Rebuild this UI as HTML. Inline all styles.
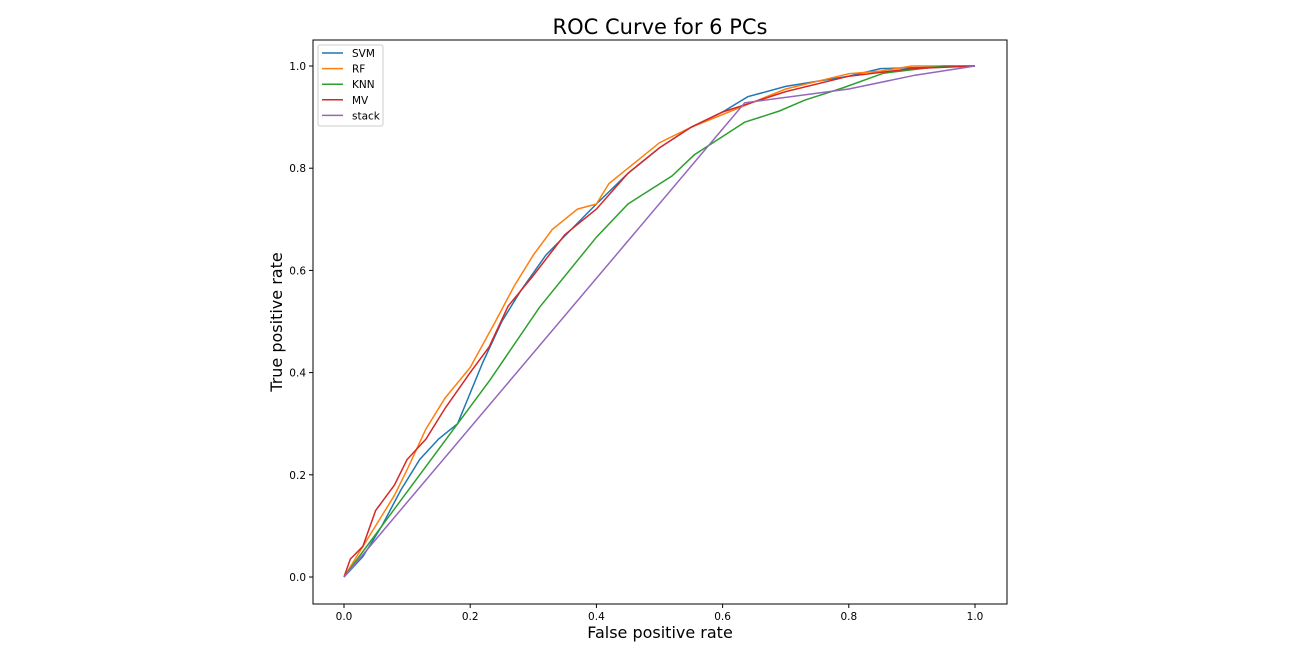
<!DOCTYPE html>
<html><head><meta charset="utf-8"><style>
body{margin:0;background:#fff;font-family:"Liberation Sans","DejaVu Sans",sans-serif;}
svg text{font-family:"DejaVu Sans","Liberation Sans",sans-serif;}
</style></head><body>
<svg id="chart" width="1303" height="662" xmlns="http://www.w3.org/2000/svg"></svg>
<script>
const xTicks=[0,0.2,0.4,0.6,0.8,1.0];
const yTicks=[0,0.2,0.4,0.6,0.8,1.0];
const seriesNames=["SVM","RF","KNN","MV","stack"];
const svmX=[0,0.03,0.06,0.09,0.12,0.15,0.18,0.2,0.22,0.25,0.28,0.32,0.36,0.4,0.45,0.5,0.55,0.6,0.64,0.7,0.75,0.8,0.85,1];
const svmY=[0,0.04,0.1,0.17,0.23,0.27,0.3,0.36,0.42,0.5,0.56,0.63,0.68,0.73,0.79,0.84,0.88,0.91,0.94,0.96,0.97,0.98,0.995,1];
const rfX=[0,0.02,0.05,0.08,0.1,0.13,0.16,0.2,0.24,0.27,0.3,0.33,0.37,0.4,0.42,0.45,0.5,0.55,0.6,0.64,0.7,0.75,0.8,0.85,0.9,1];
const rfY=[0,0.04,0.1,0.16,0.21,0.29,0.35,0.41,0.5,0.57,0.63,0.68,0.72,0.73,0.77,0.8,0.85,0.88,0.905,0.925,0.955,0.97,0.985,0.99,1,1];
const knnX=[0,0.231,0.31,0.4,0.45,0.52,0.555,0.635,0.69,0.73,0.79,0.855,0.95,1];
const knnY=[0,0.385,0.528,0.665,0.73,0.785,0.826,0.89,0.912,0.933,0.957,0.986,1,1];
const mvX=[0,0.01,0.03,0.05,0.08,0.1,0.13,0.16,0.2,0.23,0.26,0.3,0.35,0.4,0.45,0.5,0.55,0.6,0.65,0.7,0.8,0.9,1];
const mvY=[0,0.035,0.06,0.13,0.18,0.23,0.27,0.33,0.4,0.45,0.53,0.59,0.67,0.72,0.79,0.84,0.88,0.91,0.93,0.95,0.98,0.995,1];
const stackX=[0,0.635,0.8,0.905,1];
const stackY=[0,0.928,0.955,0.982,1];
const colors=["#1f77b4","#ff7f0e","#2ca02c","#d62728","#9467bd"];

const NS="http://www.w3.org/2000/svg";
const svg=document.getElementById('chart');
const L=313,R=1007,T=40,B=604;
const xs=v=>344+v*631;
const ys=v=>577-v*511;
function mk(tag,attrs,parent){const e=document.createElementNS(NS,tag);for(const k in attrs)e.setAttribute(k,attrs[k]);(parent||svg).appendChild(e);return e;}

let t=mk('text',{x:660,y:34,'text-anchor':'middle','font-size':21,fill:'#000'});t.textContent='ROC Curve for 6 PCs';


let fr=mk('rect',{x:L,y:T,width:R-L,height:B-T,fill:'none',stroke:'#000','stroke-width':1});


xTicks.forEach(v=>{
 mk('line',{x1:xs(v),x2:xs(v),y1:B,y2:B+4,stroke:'#000'});
 const e=mk('text',{x:xs(v),y:B+16,'text-anchor':'middle','font-size':10.5,fill:'#000'});e.textContent=v.toFixed(1);
 
 
});
yTicks.forEach(v=>{
 mk('line',{x1:L-4,x2:L,y1:ys(v),y2:ys(v),stroke:'#000'});
 const e=mk('text',{x:L-7,y:ys(v)+4,'text-anchor':'end','font-size':10.5,fill:'#000'});e.textContent=v.toFixed(1);
 
 
});
t=mk('text',{x:660,y:638,'text-anchor':'middle','font-size':16,fill:'#000'});t.textContent='False positive rate';


t=mk('text',{x:282,y:322,'text-anchor':'middle','font-size':16,fill:'#000',transform:'rotate(-90 282 322)'});t.textContent='True positive rate';



const data=[[svmX,svmY],[rfX,rfY],[knnX,knnY],[mvX,mvY],[stackX,stackY]];
data.forEach((d,i)=>{
 const pts=d[0].map((x,j)=>xs(x).toFixed(1)+','+ys(d[1][j]).toFixed(1)).join(' ');
 const p=mk('polyline',{points:pts,fill:'none',stroke:colors[i],'stroke-width':1.5});
 
 
});
const lg=mk('g',{});


mk('rect',{x:318,y:45,width:65,height:81,rx:2,fill:'#fff',stroke:'#ccc'},lg);
seriesNames.forEach((n,i)=>{
 const y=53+i*15.6;
 mk('line',{x1:322,x2:343,y1:y,y2:y,stroke:colors[i],'stroke-width':1.5},lg);
 const e=mk('text',{x:352,y:y+4,'font-size':10.5,fill:'#000'},lg);e.textContent=n;
 
 
});
</script>
</body></html>
